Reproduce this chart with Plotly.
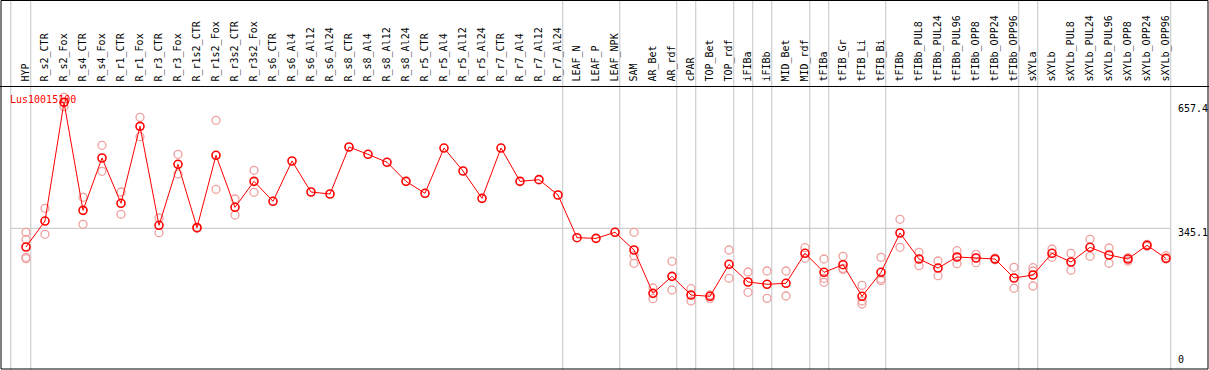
import plotly.graph_objects as go

W, H = 1209, 370

categories = [
    "HYP", "R_s2_CTR", "R_s2_Fox", "R_s4_CTR", "R_s4_Fox", "R_r1_CTR", "R_r1_Fox",
    "R_r3_CTR", "R_r3_Fox", "R_r1s2_CTR", "R_r1s2_Fox", "R_r3s2_CTR", "R_r3s2_Fox",
    "R_s6_CTR", "R_s6_Al4", "R_s6_Al12", "R_s6_Al24", "R_s8_CTR", "R_s8_Al4",
    "R_s8_Al12", "R_s8_Al24", "R_r5_CTR", "R_r5_Al4", "R_r5_Al12", "R_r5_Al24",
    "R_r7_CTR", "R_r7_Al4", "R_r7_Al12", "R_r7_Al24", "LEAF_N", "LEAF_P", "LEAF_NPK",
    "SAM", "AR_Bet", "AR_rdf", "cPAR", "TOP_Bet", "TOP_rdf", "iFIBa", "iFIBb",
    "MID_Bet", "MID_rdf", "tFIBa", "tFIB_Gr", "tFIB_Li", "tFIB_Bi", "tFIBb",
    "tFIBb_PUL8", "tFIBb_PUL24", "tFIBb_PUL96", "tFIBb_OPP8", "tFIBb_OPP24", "tFIBb_OPP96",
    "sXYLa", "sXYLb", "sXYLb_PUL8", "sXYLb_PUL24", "sXYLb_PUL96", "sXYLb_OPP8",
    "sXYLb_OPP24", "sXYLb_OPP96",
]

mean_values = [
    298.1, 363.4, 661.6, 390.2, 521.7, 407.9, 601.3, 352.6, 505.9, 346.6, 528.5, 397.8, 463.1,
    412.9, 514.2, 436.3, 431.3, 549.4, 531.0, 510.9, 463.1, 433.0, 546.8, 489.1, 420.4,
    546.8, 463.1, 467.3, 428.8, 321.5, 319.8, 335.0,
    290.6, 181.7, 224.4, 177.5, 174.2, 254.6, 210.2, 204.4, 206.9, 282.3,
    234.5, 253.7, 174.2, 234.5, 333.3, 268.0, 245.3, 273.0, 270.5, 268.0, 220.2,
    227.8, 282.3, 260.4, 297.4, 278.0, 268.0, 302.4, 269.7,
]

N = None
rep_a = [335.0, 395.3, 674.2, 423.0, 553.6, 436.3, 623.9, 371.0, 531.0, 348.0, 616.4, 418.7, 490.8,
         N, N, N, N, N, N, N, N, N, N, N, N, N, N, N, N, N, N, N,
         335.0, 195.1, 262.2, 193.4, 177.5, 290.6, 235.3, 237.8, 237.8, 296.4,
         268.0, 274.7, 201.8, 272.2, 367.7, 284.8, 262.9, 288.8, 279.8, 270.0, 247.1,
         246.1, 293.1, 282.3, 317.4, 295.6, 271.3, 304.9, 276.3]
rep_b = [317.4, 330.0, 650.6, 355.1, 488.3, 380.2, 575.3, 334.1, 481.5, 345.2, 443.1, 378.5, 435.5,
         N, N, N, N, N, N, N, N, N, N, N, N, N, N, N, N, N, N, N,
         276.3, 168.2, 190.1, 162.4, 169.1, 219.4, 184.3, 169.1, 175.0, 269.7,
         219.4, 244.5, 162.4, 217.7, 297.4, 251.2, 226.0, 256.2, 258.7, 266.0, 194.3,
         237.8, 272.2, 239.6, 274.7, 257.1, 262.9, 300.0, 268.0]
rep_c = [272.2, N, N, N, N, N, N, N, N, N, N, N, N,
         N, N, N, N, N, N, N, N, N, N, N, N, N, N, N, N, N, N, N,
         257.1, N, N, N, N, N, N, N, N, N,
         209.4, 242.0, 154.9, 213.5, N, N, N, N, N, N, N,
         200.1, N, N, N, N, N, N, N]
rep_d = [268.7] + [N] * 60

gene_label = "Lus10015100"
tick_values = [657.4, 345.1, 0]
tick_texts = ["657.4", "345.1", "0"]
separators_after = [0, 28, 31, 34, 35, 37, 38, 39, 41, 42, 45, 52, 53, 60]

MONO = "DejaVu Sans Mono"
GREY = "#C4C4C4"

fig = go.Figure()

# replicate points
for reps in (rep_a, rep_b, rep_c, rep_d):
    xs = [c for c, v in zip(categories, reps) if v is not None]
    ys = [v for v in reps if v is not None]
    fig.add_trace(go.Scatter(
        x=xs, y=ys, mode="markers",
        marker=dict(symbol="circle-open", size=8, color="#F0A0A0",
                    line=dict(width=1.3, color="#F0A0A0")),
        showlegend=False, hoverinfo="skip"))

# mean profile
fig.add_trace(go.Scatter(
    x=categories, y=mean_values, mode="lines+markers",
    line=dict(color="#FF0000", width=1),
    marker=dict(symbol="circle-open", size=8, color="#FF0000",
                line=dict(width=1.6, color="#FF0000")),
    showlegend=False))

# pixel mapping helpers (layout only)
x_lo = (0 - 26) / 19
x_hi = (W - 26) / 19
px_per_unit = (228.3 - 104.0) / (657.4 - 345.1)
zero_px = 228.3 + 345.1 * px_per_unit
y_lo = (zero_px - H) / px_per_unit
y_hi = zero_px / px_per_unit

shapes = []
for s in [-1.05] + separators_after:
    shapes.append(dict(type="line", xref="x", yref="paper",
                       x0=s + 0.25, x1=s + 0.25, y0=0, y1=1,
                       line=dict(color=GREY, width=1), layer="below"))
shapes.append(dict(type="line", xref="x", yref="y",
                   x0=-0.8, x1=60.25, y0=345.1, y1=345.1,
                   line=dict(color=GREY, width=1), layer="below"))
# frame
shapes.append(dict(type="rect", xref="paper", yref="paper",
                   x0=1.0 / W, x1=(W - 1.0) / W, y0=1.0 / H, y1=1 - 0.5 / H,
                   line=dict(color="black", width=1), layer="above"))

annotations = [dict(xref="paper", yref="paper", x=8.0 / W, y=1 - 91.5 / H,
                    xanchor="left", yanchor="top", text=gene_label, showarrow=False,
                    font=dict(family=MONO, size=10, color="#FF0000"))]
for v, t in zip(tick_values, tick_texts):
    if v == 0:
        annotations.append(dict(xref="paper", yref="y", x=1176 / W, y=v,
                                xanchor="left", yanchor="bottom", yshift=-1,
                                text=t, showarrow=False,
                                font=dict(family=MONO, size=10, color="black")))
    else:
        annotations.append(dict(xref="paper", yref="y", x=1176 / W, y=v,
                                xanchor="left", yanchor="top", yshift=3,
                                text=t, showarrow=False,
                                font=dict(family=MONO, size=10, color="black")))

fig.update_layout(
    width=W, height=H, autosize=False,
    margin=dict(l=0, r=0, t=0, b=0, pad=0, autoexpand=False),
    paper_bgcolor="white", plot_bgcolor="white",
    font=dict(family=MONO, size=10, color="black"),
    xaxis=dict(type="category", categoryorder="array", categoryarray=categories,
               range=[x_lo, x_hi], anchor="free", position=1 - 85.5 / H, side="top",
               tickmode="linear", tick0=0, dtick=1, tickangle=-90, automargin=False,
               tickfont=dict(family=MONO, size=10, color="black"),
               showgrid=False, zeroline=False, ticks="",
               showline=True, linecolor="black", linewidth=1, ticklabelstandoff=2),
    yaxis=dict(range=[y_lo, y_hi], visible=False, showgrid=False, zeroline=False,
               automargin=False),
    shapes=shapes, annotations=annotations,
)

fig.write_html(
    "out.html",
    config={"displayModeBar": False},
    post_script="document.body.style.margin='0';document.body.style.padding='0';"
                "document.body.style.overflow='hidden';",
)
